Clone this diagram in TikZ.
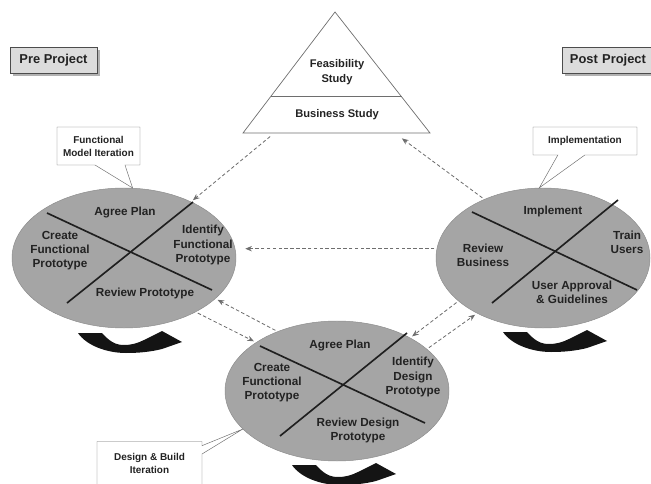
\documentclass[tikz,border=0pt]{standalone}
\usepackage{fontspec}
\setmainfont{Liberation Sans}
\usetikzlibrary{shapes.geometric, shapes.callouts, arrows.meta, shadows, calc}
\definecolor{ellfill}{HTML}{A5A5A5}
\definecolor{boxfill}{HTML}{DCDCDC}
\definecolor{inkgray}{HTML}{222222}
\definecolor{linegray}{HTML}{6E6E6E}

\tikzset{
    turnarrow/.pic={
        \fill[black!92] (0,0) -- (24,0) .. controls (32,9) and (38,12) .. (46,12)
            .. controls (54,12) and (60,10) .. (66,7) -- (84,-2) -- (104,9) -- (84,16)
            .. controls (72,19) and (60,20) .. (48,20) .. controls (28,20) and (8,12) .. (0,0) -- cycle;
    }
}

\begin{document}
\begin{tikzpicture}[
    x=0.03cm, y=-0.03cm,
    every node/.style={font=\bfseries\fontsize{10}{12}\selectfont, text=inkgray, align=center, inner sep=1pt},
    phase/.style={ellipse, fill=ellfill, draw=ellfill!85!black, minimum width=6.72cm, minimum height=4.2cm, inner sep=0pt},
    quarter/.style={line width=1.4pt, black!88},
    stage/.style={rectangle, draw=black!70, fill=boxfill, font=\bfseries\fontsize{11}{13}\selectfont,
        minimum height=0.78cm, drop shadow={shadow xshift=0.09cm, shadow yshift=-0.09cm, fill=black!30, opacity=1}},
    note/.style={rectangle callout, draw=linegray, fill=white, font=\bfseries\fontsize{8.5}{11}\selectfont},
    pyramid/.style={draw=linegray, line width=0.6pt},
    flow/.style={-{Stealth[length=2mm, width=1.6mm]}, linegray, line width=0.7pt, dash pattern=on 3pt off 2pt,
        shorten >=2pt, shorten <=2pt}
]
    \useasboundingbox (0,0) rectangle (651,484);

    % project phases outside the cycle
    \node[stage, minimum width=2.61cm] (pre)  at (53.5,60) {Pre Project};
    \node[stage, minimum width=3.1cm, text width=2.9cm, align=left] (post) at (614,60.5) {~Post Project};

    % feasibility / business pyramid
    \coordinate (top)   at (335,12);
    \coordinate (baseL) at (243,133);
    \coordinate (baseR) at (430,133);
    \draw[pyramid] (top) -- (baseR) -- (baseL) -- cycle;
    \draw[pyramid] ($(top)!0.7!(baseL)$) -- ($(top)!0.7!(baseR)$);
    \node[font=\bfseries\fontsize{9.5}{12.5}\selectfont] (feas) at (337,72)  {Feasibility\\Study};
    \node[font=\bfseries\fontsize{9.5}{12.5}\selectfont] (bus)  at (337,115) {Business Study};
    \coordinate (tri-out) at (272,135);
    \coordinate (tri-in)  at (400,137);

    % the three iteration ellipses
    \node[phase] (fme) at (124,258) {};
    \node[phase] (bme) at (337,391) {};
    \node[phase, minimum width=6.42cm] (ime) at (543,258) {};

    \draw[quarter] ($(fme)+(-77,-45)$) -- ($(fme)+(88,32)$);
    \draw[quarter] ($(fme)+(69,-56)$)  -- ($(fme)+(-57,45)$);
    \draw[quarter] ($(bme)+(-77,-45)$) -- ($(bme)+(88,32)$);
    \draw[quarter] ($(bme)+(70,-58)$)  -- ($(bme)+(-57,45)$);
    \draw[quarter] ($(ime)+(-71,-46)$) -- ($(ime)+(94,32)$);
    \draw[quarter] ($(ime)+(75,-58)$)  -- ($(ime)+(-51,45)$);

    % functional model iteration
    \node (fme-plan)   at (125,212) {Agree Plan};
    \node (fme-create) at (60,251)  {Create\\Functional\\Prototype};
    \node (fme-ident)  at (203,245) {Identify\\Functional\\Prototype};
    \node (fme-review) at (145,293) {Review Prototype};

    % design & build iteration
    \node (bme-plan)   at (340,345) {Agree Plan};
    \node (bme-create) at (272,383) {Create\\Functional\\Prototype};
    \node (bme-ident)  at (413,377) {Identify\\Design\\Prototype};
    \node (bme-review) at (358,430) {Review Design\\Prototype};

    % implementation
    \node (ime-impl)   at (553,211) {Implement};
    \node (ime-train)  at (627,242) {Train\\Users};
    \node (ime-review) at (483,255) {Review\\Business};
    \node (ime-user)   at (572,292) {User Approval\\\& Guidelines};

    % callouts
    \node[note, minimum width=2.49cm, minimum height=1.14cm, callout absolute pointer={(fme.83)},
        callout pointer width=0.9cm] (fme-note) at (98.5,146) {Functional\\Model Iteration};
    \node[note, minimum width=3.12cm, minimum height=0.84cm, callout absolute pointer={(ime.93)},
        callout pointer width=0.81cm] (ime-note) at (585,141) {Implementation};
    \node[note, minimum width=3.15cm, minimum height=1.29cm, callout absolute pointer={(bme.202)},
        callout pointer width=0.25cm] (bme-note) at (149.5,463) {Design \& Build\\Iteration};

    % dashed transitions
    \draw[flow] (tri-out) -- (fme.40);
    \draw[flow] (ime.135) -- (tri-in);
    \draw[flow, shorten >=0.27cm] (ime.175) -- (fme.east |- ime.175);
    \draw[flow] (bme.135) -- (fme.-24);
    \draw[flow] (fme.-37) -- (bme.149);
    \draw[flow] (ime.207) -- (bme.36);
    \draw[flow] (bme.25)  -- (ime.220);

    % iterate arrows
    \pic (fme-turn) at (78,333)  {turnarrow};
    \pic (bme-turn) at (292,465) {turnarrow};
    \pic (ime-turn) at (503,332) {turnarrow};
\end{tikzpicture}
\end{document}
